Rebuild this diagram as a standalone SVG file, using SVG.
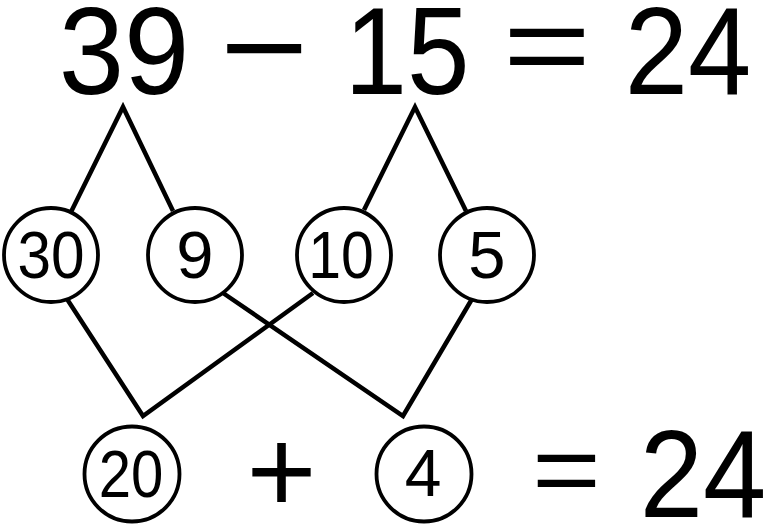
<svg xmlns="http://www.w3.org/2000/svg" width="768" height="527" viewBox="0 0 768 527">
<style>
text{font-family:"Liberation Sans",Arial,sans-serif;fill:#000;text-anchor:middle}
.big{font-size:125px}
.num{font-size:67px}
circle{fill:#fff;stroke:#000;stroke-width:3.8}
.conn path{fill:none;stroke:#000;stroke-width:4.5;stroke-linejoin:miter}
</style>
<rect width="768" height="527" fill="#fff"/>
<g id="top-equation">
<text class="big" transform="translate(124,94) scale(0.94,1)">39</text>
<text style="font-size:130px" transform="translate(264.5,92) scale(1.17,1)">−</text>
<text class="big" transform="translate(407,94) scale(0.9,1)">15</text>
<text style="font-size:114px" transform="translate(547,84) scale(1.33,1)">=</text>
<text class="big" transform="translate(688,94) scale(0.91,1)">24</text>
</g>
<g class="conn" id="connectors">
<path d="M71,212 L123,107 L173,211"/>
<path d="M364,210 L415,107 L466,211"/>
<path d="M67,299 L143,416 L313,293"/>
<path d="M223,293 L403,416 L472,299"/>
</g>
<g id="n30"><circle cx="51" cy="255" r="47"/><text class="num" transform="translate(51,278) scale(0.9,1)">30</text></g>
<g id="n9"><circle cx="195" cy="255" r="47"/><text class="num" x="195" y="278">9</text></g>
<g id="n10"><circle cx="344" cy="255" r="47"/><text class="num" transform="translate(341,278) scale(0.88,1)">10</text></g>
<g id="n5"><circle cx="487" cy="255" r="47"/><text class="num" x="487" y="278">5</text></g>
<g id="n20"><circle cx="132" cy="474" r="47.5"/><text style="font-size:66px" transform="translate(131,497) scale(0.88,1)">20</text></g>
<text style="font-size:120px" x="281.5" y="512.5">+</text>
<g id="n4"><circle cx="424" cy="474" r="47.5"/><text style="font-size:66px" x="423" y="496">4</text></g>
<g id="bottom-result">
<text style="font-size:100px" transform="translate(566.5,504) scale(1.18,1)">=</text>
<text class="big" transform="translate(703,517) scale(0.91,1)">24</text>
</g>
</svg>
